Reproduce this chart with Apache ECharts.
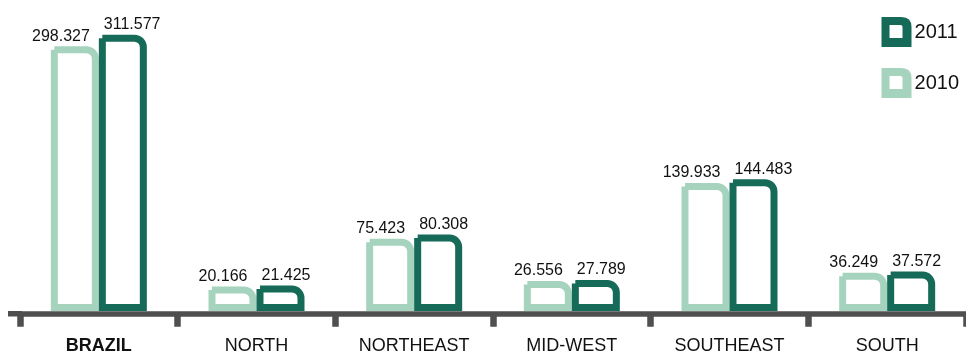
<!DOCTYPE html>
<html>
<head>
<meta charset="utf-8">
<style>
html,body{margin:0;padding:0;background:#fff;}
#c{width:966px;height:356px;}
</style>
<script src="https://cdn.jsdelivr.net/npm/echarts@6/dist/echarts.min.js"></script>
</head>
<body>
<div id="c"></div>
<script>
var categories = ['BRAZIL', 'NORTH', 'NORTHEAST', 'MID-WEST', 'SOUTHEAST', 'SOUTH'];
var values2010 = [298.327, 20.166, 75.423, 26.556, 139.933, 36.249];
var values2011 = [311.577, 21.425, 80.308, 27.789, 144.483, 37.572];
var seriesNames = ['2010', '2011'];

var DARK = '#156b58';
var LIGHT = '#a6d3be';
var AXIS = '#4f4f4f';
var FONT = 'Liberation Sans, Arial, Helvetica, sans-serif';
var ICON = 'path://M0,0 L20,0 Q30,0 30,10 L30,30 L0,30 Z M8,8 L8,21 L21,21 L21,10 Q21,8 19,8 Z';

var STROKE = 7;
var RECT_W = 41;

function fmt(v) { return v.toFixed(3); }

function makeRender(side, color) {
  return function (params, api) {
    var ci = api.value(0);
    var v = api.value(1);
    var top = api.coord([ci, v]);
    var base = api.coord([ci, 0]);
    var outerW = RECT_W + STROKE;
    var cx = top[0] + side * outerW / 2;
    var x = cx - RECT_W / 2;
    var outerTop = top[1] - STROKE / 2;
    var text = {
      type: 'text',
      x: side < 0 ? cx + 15 : cx - 19,
      y: outerTop - 2,
      style: {
        text: fmt(v), font: '16px ' + FONT, fill: '#111',
        align: side < 0 ? 'right' : 'left', verticalAlign: 'bottom'
      }
    };
    return {
      type: 'group',
      children: [
        {
          type: 'rect',
          shape: {x: x, y: top[1], width: RECT_W, height: base[1] - top[1], r: [0, 9, 0, 0]},
          style: {fill: '#ffffff', stroke: color, lineWidth: STROKE}
        },
        text
      ]
    };
  };
}

var chart = echarts.init(document.getElementById('c'), null, {renderer: 'canvas'});

chart.setOption({
  animation: false,
  backgroundColor: '#ffffff',
  textStyle: {fontFamily: FONT},
  grid: {left: 20, right: -6, top: 5, bottom: 48.5, containLabel: false},
  legend: {
    data: ['2011', '2010'],
    orient: 'vertical',
    right: 2,
    top: 12,
    itemWidth: 30,
    itemHeight: 30,
    itemGap: 21,
    icon: ICON,
    itemStyle: {borderWidth: 0},
    textStyle: {fontSize: 20, color: '#111', padding: [0, 0, 0, -2]}
  },
  xAxis: {
    type: 'category',
    data: categories,
    offset: 6.3,
    axisLine: {onZero: false, lineStyle: {color: AXIS, width: 5.5}},
    axisTick: {show: true, length: 13, lineStyle: {color: AXIS, width: 6.5}},
    axisLabel: {
      fontSize: 18,
      lineHeight: 18,
      color: '#111',
      margin: 23,
      formatter: function (v, i) { return i === 0 ? '{b|' + v + '}' : v; },
      rich: {b: {fontSize: 18, lineHeight: 18, fontWeight: 'bold', color: '#111'}}
    }
  },
  yAxis: {
    type: 'value', min: 0, max: 350, show: false,
    splitLine: {show: false}
  },
  graphic: [{
    type: 'rect', silent: true, z: 1,
    shape: {x: 8, y: 311, width: 14, height: 5.5},
    style: {fill: AXIS}
  }],
  series: [
    {
      name: seriesNames[0], type: 'custom',
      data: values2010.map(function (v, i) { return [i, v]; }),
      encode: {x: 0, y: 1},
      itemStyle: {color: LIGHT},
      renderItem: makeRender(-1, LIGHT),
      z: 2
    },
    {
      name: seriesNames[1], type: 'custom',
      data: values2011.map(function (v, i) { return [i, v]; }),
      encode: {x: 0, y: 1},
      itemStyle: {color: DARK},
      renderItem: makeRender(1, DARK),
      z: 3
    }
  ]
});
</script>
</body>
</html>
